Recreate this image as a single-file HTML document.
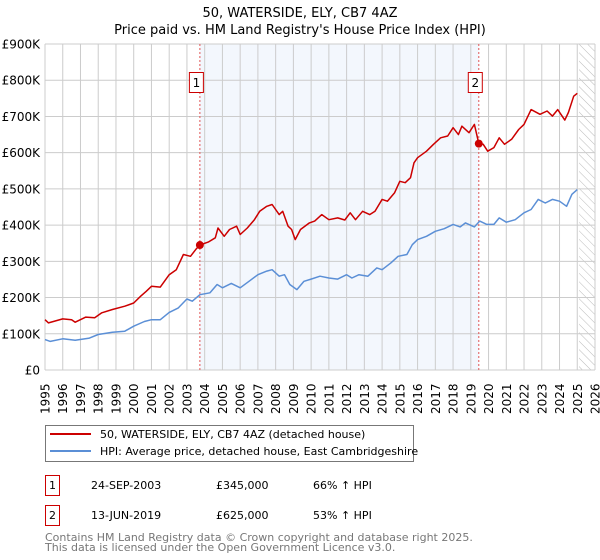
<!DOCTYPE html>
<html><head><meta charset="utf-8"><style>
body{margin:0;background:#fff;font-family:"DejaVu Sans","Liberation Sans",sans-serif;}
svg{display:block}
</style></head><body>
<svg width="600" height="560" viewBox="0 0 600 560" id="c">
<defs><pattern id="hatch" width="6" height="6" patternUnits="userSpaceOnUse" patternTransform="rotate(-45)"><line x1="0" y1="0" x2="0" y2="6" stroke="#bbb" stroke-width="1"/></pattern></defs>
<text x="300" y="17" text-anchor="middle" font-size="13">50, WATERSIDE, ELY, CB7 4AZ</text>
<text x="300" y="34" text-anchor="middle" font-size="13">Price paid vs. HM Land Registry's House Price Index (HPI)</text>
<g id="plot"></g>
<rect x="45.5" y="425.5" width="368" height="36" fill="#fff" stroke="#777"/>
<line x1="50" y1="434" x2="91" y2="434" stroke="#cc0000" stroke-width="2"/>
<text x="100" y="438" font-size="11">50, WATERSIDE, ELY, CB7 4AZ (detached house)</text>
<line x1="50" y1="451" x2="91" y2="451" stroke="#5b8fd6" stroke-width="2"/>
<text x="100" y="455" font-size="11">HPI: Average price, detached house, East Cambridgeshire</text>
<g font-size="11">
<rect x="45.5" y="475.5" width="14" height="20" fill="#fff" stroke="#cc0000"/>
<text x="52.5" y="489" text-anchor="middle">1</text>
<text x="91" y="489">24-SEP-2003</text><text x="216" y="489">£345,000</text><text x="313" y="489">66% ↑ HPI</text>
<rect x="45.5" y="505.5" width="14" height="20" fill="#fff" stroke="#cc0000"/>
<text x="52.5" y="519" text-anchor="middle">2</text>
<text x="91" y="519">13-JUN-2019</text><text x="216" y="519">£625,000</text><text x="313" y="519">53% ↑ HPI</text>
</g>
<text x="45" y="541" font-size="11" fill="#777">Contains HM Land Registry data © Crown copyright and database right 2025.</text>
<text x="45" y="551" font-size="11" fill="#777">This data is licensed under the Open Government Licence v3.0.</text>
</svg>
<script>
const yTicks=[0,100,200,300,400,500,600,700,800,900];
const yTickLabels=["£0","£100K","£200K","£300K","£400K","£500K","£600K","£700K","£800K","£900K"];
const years=[1995,1996,1997,1998,1999,2000,2001,2002,2003,2004,2005,2006,2007,2008,2009,2010,2011,2012,2013,2014,2015,2016,2017,2018,2019,2020,2021,2022,2023,2024,2025,2026];
const saleDates=[2003.73,2019.45];
const salePrices=[345,625];
const saleLabels=["1","2"];
const redT=[1995,1995.2,1996,1996.5,1996.7,1997.3,1997.8,1998.2,1998.8,1999.5,2000,2000.4,2000.7,2001,2001.5,2002,2002.4,2002.8,2003.2,2003.5,2003.73,2004.2,2004.6,2004.75,2005.1,2005.4,2005.8,2006,2006.4,2006.8,2007.1,2007.5,2007.8,2008.2,2008.4,2008.7,2008.9,2009.1,2009.4,2009.9,2010.2,2010.6,2011,2011.5,2011.9,2012.2,2012.5,2012.9,2013.3,2013.6,2014,2014.3,2014.7,2015,2015.3,2015.6,2015.8,2016,2016.5,2016.9,2017.3,2017.7,2018,2018.3,2018.5,2018.9,2019.2,2019.45,2019.7,2019.95,2020.3,2020.6,2020.9,2021.3,2021.7,2022,2022.4,2022.9,2023.3,2023.6,2023.9,2024.3,2024.5,2024.8,2025];
const redV=[139,130,141,139,132,146,144,158,167,176,185,204,217,231,229,263,277,319,314,333,345,353,365,392,369,388,397,374,392,415,438,452,457,429,438,397,388,360,388,406,411,429,415,420,414,434,415,438,429,438,471,466,489,521,517,531,572,586,604,623,641,646,669,650,673,655,678,625,623,604,614,641,623,637,664,678,719,706,715,701,719,690,711,756,764];
const hpiT=[1995,1995.3,1996,1996.7,1997.5,1998,1998.8,1999.5,2000,2000.6,2001,2001.5,2002,2002.5,2003,2003.3,2003.73,2004.3,2004.7,2005,2005.5,2006,2006.5,2007,2007.5,2007.8,2008.2,2008.5,2008.8,2009.2,2009.6,2010,2010.5,2011,2011.5,2012,2012.3,2012.7,2013.2,2013.7,2014,2014.5,2014.9,2015.4,2015.7,2016,2016.5,2017,2017.5,2018,2018.4,2018.7,2019.2,2019.5,2019.9,2020.3,2020.6,2021,2021.5,2022,2022.4,2022.8,2023.2,2023.6,2024,2024.4,2024.7,2025];
const hpiV=[84,79,86,82,88,98,104,107,121,134,139,139,159,171,196,190,208,213,236,227,239,227,245,263,273,277,259,263,236,222,245,251,259,254,251,263,254,263,259,282,277,296,314,319,346,360,369,383,390,402,395,406,395,411,402,402,420,408,415,434,443,471,461,471,466,452,485,498];
const X0=45,X1=595,Y0=370,Y1=44;
const xs=t=>X0+(t-1995)/(2026-1995)*(X1-X0);
const ys=v=>Y0-v/900*(Y0-Y1);
const NS="http://www.w3.org/2000/svg";
const g=document.getElementById('plot');
function mk(tag,attrs,parent){const e=document.createElementNS(NS,tag);for(const k in attrs)e.setAttribute(k,attrs[k]);(parent||g).appendChild(e);return e;}
let e;
e=mk('rect',{x:X0,y:Y1,width:X1-X0,height:Y0-Y1,fill:'#fff'});


e=mk('rect',{x:xs(saleDates[0]),y:Y1,width:xs(saleDates[1])-xs(saleDates[0]),height:Y0-Y1,fill:'#eef3fc',opacity:0.7});


e=mk('rect',{x:xs(2025.1),y:Y1,width:X1-xs(2025.1),height:Y0-Y1,fill:'url(#hatch)'});


years.forEach(yr=>{
 e=mk('line',{x1:xs(yr),x2:xs(yr),y1:Y1,y2:Y0,stroke:'#ccc','stroke-width':1});
 
 
 e=mk('text',{transform:`translate(${xs(yr)+4.5},${Y0+44}) rotate(-90)`,'font-size':12});
 e.textContent=yr;
 
 
});
yTicks.forEach((v,i)=>{
 e=mk('line',{x1:X0,x2:X1,y1:ys(v),y2:ys(v),stroke:'#ccc','stroke-width':1});
 
 
 e=mk('text',{x:X0-5,y:ys(v)+4.5,'text-anchor':'end','font-size':12});
 e.textContent=yTickLabels[i];
 
 
});
saleDates.forEach((d,i)=>{
 e=mk('line',{x1:xs(d),x2:xs(d),y1:Y1,y2:Y0,stroke:'#e05555','stroke-width':1,'stroke-dasharray':'2,2'});
 
 
});
function path(T,V,color,name){
 const d=T.map((t,i)=>(i?'L':'M')+xs(t).toFixed(1)+','+ys(V[i]).toFixed(1)).join('');
 const p=mk('path',{d:d,fill:'none',stroke:color,'stroke-width':1.5,'stroke-linejoin':'round'});
 
 
}
path(hpiT,hpiV,'#5b8fd6','hpi-line');
path(redT,redV,'#cc0000','price-paid-line');
saleDates.forEach((d,i)=>{
 e=mk('circle',{cx:xs(d),cy:ys(salePrices[i]),r:4,fill:'#cc0000'});
 
 
 e=mk('rect',{x:xs(d)-10.5,y:72.5,width:14,height:20,fill:'#fff',stroke:'#cc0000'});
 
 
 e=mk('text',{x:xs(d)-3.5,y:87,'text-anchor':'middle','font-size':12});
 e.textContent=saleLabels[i];
 
 
});
</script>
</body></html>
